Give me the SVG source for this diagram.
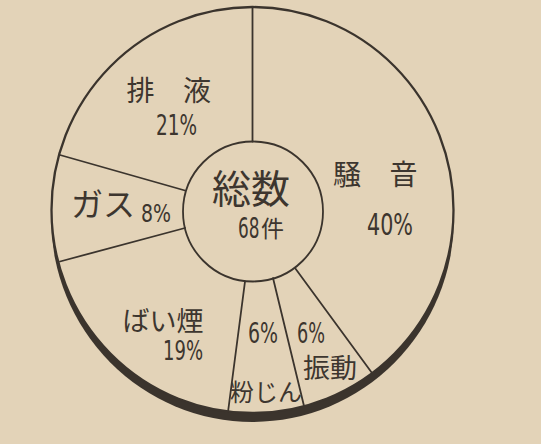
<svg xmlns="http://www.w3.org/2000/svg" width="541" height="444" viewBox="0 0 541 444">
<style>
.ln{stroke:#3b342d;stroke-width:1.8;fill:none;stroke-linecap:round}
.jp{font-family:"Noto Sans CJK JP","Noto Sans CJK SC",sans-serif;fill:#3d362f}
.num{font-family:"Liberation Sans Narrow","DejaVu Sans Condensed","Liberation Sans",sans-serif;fill:#3d362f}
</style>
<rect width="541" height="444" fill="#e3d3b8"/>
<g id="pie-ring">
<ellipse cx="252.5" cy="218" rx="201.5" ry="204" fill="#3b342d"/>
<ellipse cx="252.5" cy="210" rx="201" ry="203" fill="#e3d3b8" stroke="#3b342d" stroke-width="2.3"/>
</g>
<g id="connectors" class="ln">
<line x1="252.5" y1="7" x2="252.5" y2="141.5"/>
<line x1="60" y1="155" x2="185" y2="190.5"/>
<line x1="60" y1="261.5" x2="185" y2="228"/>
<line x1="245" y1="281.5" x2="228" y2="412"/>
<line x1="273" y1="278" x2="304" y2="406"/>
<line x1="295" y1="268" x2="372" y2="373"/>
</g>
<g id="total">
<circle cx="253" cy="211.5" r="70" class="ln"/>
<text class="jp"><tspan x="251" y="203" font-size="39" text-anchor="middle">総数</tspan><tspan x="261" y="237" font-size="23">件</tspan></text>
<text class="num" transform="translate(238 238) scale(0.67 1)" font-size="28">68</text>
</g>
<g id="haieki">
<text class="jp" x="140.5" y="101" font-size="28" text-anchor="middle">排</text>
<text class="jp" x="197" y="101" font-size="28" text-anchor="middle">液</text>
<text class="num" x="156" y="135" font-size="28" textLength="41" lengthAdjust="spacingAndGlyphs">21%</text>
</g>
<g id="gas">
<text class="jp" x="71" y="216" font-size="32">ガス</text>
<text class="num" x="141" y="222" font-size="25" textLength="30" lengthAdjust="spacingAndGlyphs">8%</text>
</g>
<g id="souon">
<text class="jp" x="347" y="185" font-size="28" text-anchor="middle">騒</text>
<text class="jp" x="403.5" y="185" font-size="28" text-anchor="middle">音</text>
<text class="num" x="367" y="235" font-size="30" textLength="46" lengthAdjust="spacingAndGlyphs">40%</text>
</g>
<g id="baien">
<text class="jp" x="163" y="331" font-size="27" text-anchor="middle">ばい煙</text>
<text class="num" x="163" y="360" font-size="27" textLength="40" lengthAdjust="spacingAndGlyphs">19%</text>
</g>
<g id="funjin">
<text class="num" x="248" y="343" font-size="28" textLength="30" lengthAdjust="spacingAndGlyphs">6%</text>
<text class="jp" x="266" y="401" font-size="24" text-anchor="middle">粉じん</text>
</g>
<g id="shindou">
<text class="num" x="297" y="343" font-size="28" textLength="28" lengthAdjust="spacingAndGlyphs">6%</text>
<text class="jp" x="330" y="378" font-size="27" text-anchor="middle">振動</text>
</g>
</svg>
